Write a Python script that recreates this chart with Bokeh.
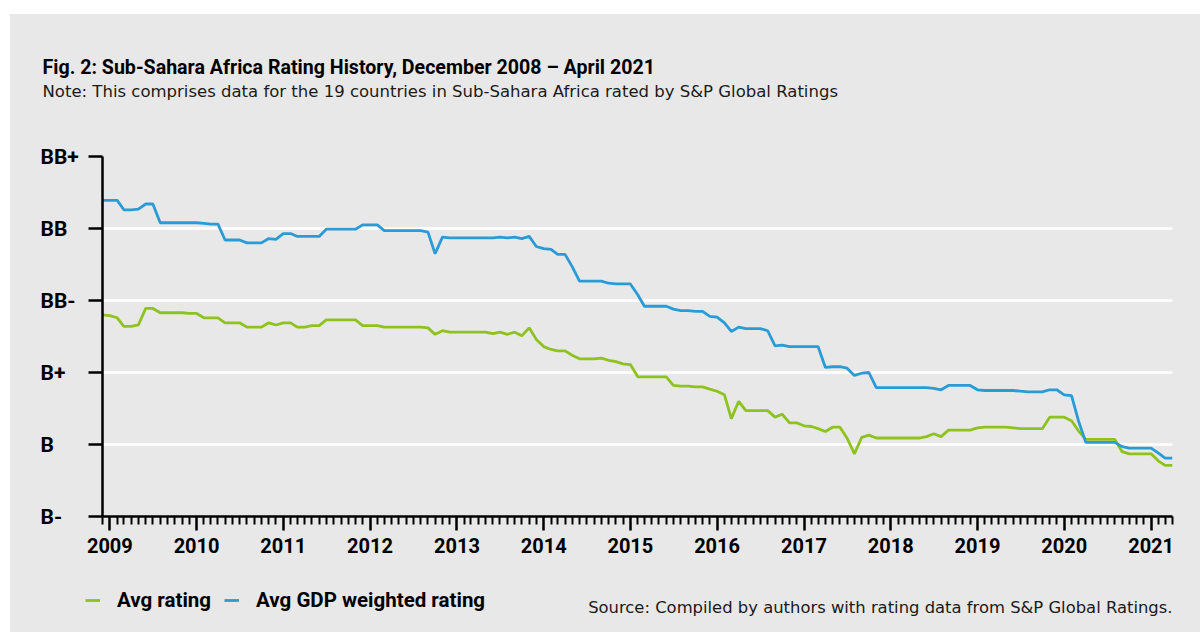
import datetime as dt
from bokeh.plotting import figure
from bokeh.models import (FixedTicker, ColumnDataSource, LabelSet, Label, Legend, LegendItem,
                          Range1d, DatetimeTickFormatter, CustomJSTickFormatter, Spacer)
from bokeh.layouts import column, row
from bokeh.embed import file_html
from bokeh.resources import INLINE
from bokeh.core.properties import value

# ---------------- data ----------------
title_text = "Fig. 2: Sub-Sahara Africa Rating History, December 2008 \u2013 April 2021"
note_text = "Note: This comprises data for the 19 countries in Sub-Sahara Africa rated by S&P Global Ratings"
source_text = "Source: Compiled by authors with rating data from S&P Global Ratings."
series_names = ["Avg rating", "Avg GDP weighted rating"]

rating_labels = ["B-", "B", "B+", "BB-", "BB", "BB+"]
rating_levels = [1, 2, 3, 4, 5, 6]
year_ticks = list(range(2009, 2022))

# monthly observations, December 2008 .. April 2021 (rating scale: B-=1 ... BB+=6)
avg_rating = [
    3.80, 3.79, 3.76, 3.64, 3.64, 3.66, 3.89, 3.89, 3.83, 3.83, 3.83, 3.83,   # Dec08-Nov09
    3.82, 3.82, 3.76, 3.76, 3.76, 3.69, 3.69, 3.69, 3.63, 3.63, 3.63, 3.69,   # Dec09-Nov10
    3.66, 3.69, 3.69, 3.63, 3.63, 3.65, 3.65, 3.73, 3.73, 3.73, 3.73, 3.73,   # Dec10-Nov11
    3.65, 3.65, 3.65, 3.63, 3.63, 3.63, 3.63, 3.63, 3.63, 3.62, 3.53, 3.58,   # Dec11-Nov12
    3.56, 3.56, 3.56, 3.56, 3.56, 3.56, 3.54, 3.56, 3.53, 3.56, 3.51, 3.62,   # Dec12-Nov13
    3.46, 3.36, 3.32, 3.30, 3.30, 3.24, 3.19, 3.19, 3.19, 3.20, 3.17, 3.15,   # Dec13-Nov14
    3.12, 3.11, 2.94, 2.94, 2.94, 2.94, 2.94, 2.82, 2.81, 2.81, 2.80, 2.80,   # Dec14-Nov15
    2.77, 2.74, 2.69, 2.36, 2.60, 2.47, 2.47, 2.47, 2.47, 2.38, 2.42, 2.30,   # Dec15-Nov16
    2.30, 2.26, 2.25, 2.22, 2.18, 2.24, 2.24, 2.09, 1.87, 2.10, 2.13, 2.09,   # Dec16-Nov17
    2.09, 2.09, 2.09, 2.09, 2.09, 2.09, 2.11, 2.15, 2.11, 2.20, 2.20, 2.20,   # Dec17-Nov18
    2.20, 2.23, 2.24, 2.24, 2.24, 2.24, 2.23, 2.22, 2.22, 2.22, 2.22, 2.38,   # Dec18-Nov19
    2.38, 2.38, 2.33, 2.19, 2.07, 2.07, 2.07, 2.07, 2.07, 1.90, 1.87, 1.87,   # Dec19-Nov20
    1.87, 1.87, 1.77, 1.71, 1.71,                                             # Dec20-Apr21
]
avg_gdp_weighted = [
    5.39, 5.39, 5.39, 5.26, 5.26, 5.27, 5.34, 5.34, 5.08, 5.08, 5.08, 5.08,   # Dec08-Nov09
    5.08, 5.08, 5.07, 5.06, 5.06, 4.84, 4.84, 4.84, 4.80, 4.80, 4.80, 4.86,   # Dec09-Nov10
    4.85, 4.93, 4.93, 4.89, 4.89, 4.89, 4.89, 4.99, 4.99, 4.99, 4.99, 4.99,   # Dec10-Nov11
    5.05, 5.05, 5.05, 4.97, 4.97, 4.97, 4.97, 4.97, 4.97, 4.95, 4.65, 4.88,   # Dec11-Nov12
    4.87, 4.87, 4.87, 4.87, 4.87, 4.87, 4.87, 4.88, 4.87, 4.88, 4.86, 4.89,   # Dec12-Nov13
    4.75, 4.72, 4.71, 4.64, 4.64, 4.47, 4.27, 4.27, 4.27, 4.27, 4.24, 4.23,   # Dec13-Nov14
    4.23, 4.23, 4.08, 3.92, 3.92, 3.92, 3.92, 3.88, 3.86, 3.86, 3.85, 3.85,   # Dec14-Nov15
    3.78, 3.77, 3.69, 3.57, 3.63, 3.61, 3.61, 3.61, 3.58, 3.37, 3.38, 3.36,   # Dec15-Nov16
    3.36, 3.36, 3.36, 3.36, 3.07, 3.08, 3.08, 3.06, 2.96, 2.99, 3.00, 2.79,   # Dec16-Nov17
    2.79, 2.79, 2.79, 2.79, 2.79, 2.79, 2.79, 2.78, 2.76, 2.82, 2.82, 2.82,   # Dec17-Nov18
    2.82, 2.76, 2.75, 2.75, 2.75, 2.75, 2.75, 2.74, 2.73, 2.73, 2.73, 2.76,   # Dec18-Nov19
    2.76, 2.69, 2.68, 2.33, 2.03, 2.03, 2.03, 2.03, 2.03, 1.97, 1.95, 1.95,   # Dec19-Nov20
    1.95, 1.95, 1.88, 1.81, 1.81,                                             # Dec20-Apr21
]

def month_start(i):
    y = 2008 + (11 + i) // 12
    m = (11 + i) % 12 + 1
    return dt.datetime(y, m, 1)

months = [month_start(i) for i in range(len(avg_rating))]

def ms(d):
    return (d - dt.datetime(1970, 1, 1)).total_seconds() * 1000.0

GREEN = "#8dc21f"
BLUE = "#2a9bd6"
BG = "#e8e8e8"
BOLD = "Roboto"
REG = "DejaVu Sans"
TXT = "#1a1a1a"

# layout sizes (pixels)
MAIN_H, BORDER_T, BORDER_B = 432, 16, 56


def blank(p):
    p.background_fill_color = BG
    p.border_fill_color = BG
    p.outline_line_color = None
    p.grid.visible = False
    return p


# ---------------- top strip: title + note ----------------
p_top = blank(figure(width=1190, height=126, output_backend="svg", toolbar_location=None,
                     x_range=Range1d(0, 1), y_range=Range1d(0, 1),
                     x_axis_location=None, y_axis_location=None, min_border=0))
p_top.add_layout(Label(x=32, y=73, x_units="screen", y_units="screen", text=title_text,
                       text_font=BOLD, text_font_style="bold", text_font_size="19.6px",
                       text_color="black", text_baseline="alphabetic"))
p_top.add_layout(Label(x=32, y=49, x_units="screen", y_units="screen", text=note_text,
                       text_font=REG, text_font_size="16.5px",
                       text_color=TXT, text_baseline="alphabetic"))

# ---------------- main chart ----------------
p = figure(width=1114, height=MAIN_H, x_axis_type="datetime",
           output_backend="svg", toolbar_location=None,
           x_range=Range1d(ms(months[0]), ms(months[-1])),
           y_range=Range1d(rating_levels[0], rating_levels[-1]),
           min_border_left=16, min_border_right=28, min_border_top=BORDER_T, min_border_bottom=BORDER_B)
p.background_fill_color = BG
p.border_fill_color = BG
p.outline_line_color = None

p.xgrid.grid_line_color = None
p.ygrid.grid_line_color = "white"
p.ygrid.grid_line_width = 2.5

major = [ms(dt.datetime(y, 1, 1)) for y in year_ticks]
minor = [ms(d) for d in months if d.month != 1]
p.xaxis.ticker = FixedTicker(ticks=major, minor_ticks=minor)
p.xaxis.formatter = DatetimeTickFormatter(years="%Y", months="%Y", days="%Y", hours="%Y")
p.xaxis.axis_line_width = 2.5
p.xaxis.axis_line_color = "black"
p.xaxis.major_tick_line_width = 2.5
p.xaxis.minor_tick_line_width = 2
p.xaxis.major_tick_out = 14
p.xaxis.major_tick_in = 0
p.xaxis.minor_tick_out = 8
p.xaxis.minor_tick_in = 0
p.xaxis.major_label_standoff = 7
p.xaxis.major_label_text_font = BOLD
p.xaxis.major_label_text_font_style = "bold"
p.xaxis.major_label_text_font_size = "20px"
p.xaxis.major_label_text_color = "black"

p.yaxis.ticker = FixedTicker(ticks=rating_levels, minor_ticks=[])
p.yaxis.formatter = CustomJSTickFormatter(code="return ''")
p.yaxis.major_label_standoff = 0
p.yaxis.axis_line_width = 2.5
p.yaxis.axis_line_color = "black"
p.yaxis.major_tick_line_width = 2.5
p.yaxis.major_tick_out = 14
p.yaxis.major_tick_in = 0
p.yaxis.minor_tick_line_color = None

r1 = p.line(months, avg_rating, line_color=GREEN, line_width=2.8)
r2 = p.line(months, avg_gdp_weighted, line_color=BLUE, line_width=2.8)

# ---------------- left strip: rating labels (same vertical scale as the chart) ----------------
px_per_unit = (MAIN_H - BORDER_T - BORDER_B) / (rating_levels[-1] - rating_levels[0])
p_left = blank(figure(width=76, height=MAIN_H, output_backend="svg", toolbar_location=None,
                      x_range=Range1d(0, 1),
                      y_range=Range1d(rating_levels[0] - BORDER_B / px_per_unit,
                                      rating_levels[-1] + BORDER_T / px_per_unit),
                      x_axis_location=None, y_axis_location=None, min_border=0))
ylab_src = ColumnDataSource(dict(y=rating_levels, text=rating_labels))
p_left.add_layout(LabelSet(x=30, x_units="screen", y="y", text="text", source=ylab_src,
                           text_align="left", text_baseline="middle",
                           text_font=value(BOLD), text_font_style="bold", text_font_size="21px",
                           text_color="black"))

# ---------------- bottom strip: legend + source ----------------
p_bot = blank(figure(width=1190, height=60, output_backend="svg", toolbar_location=None,
                     x_range=Range1d(0, 1), y_range=Range1d(0, 1),
                     x_axis_location=None, y_axis_location=None, min_border=0))
# key renderers (their data lie outside this strip's ranges; only the legend swatches show)
k1 = p_bot.line(months, avg_rating, line_color=GREEN, line_width=2.8)
k2 = p_bot.line(months, avg_gdp_weighted, line_color=BLUE, line_width=2.8)
legend = Legend(items=[LegendItem(label=series_names[0], renderers=[k1]),
                       LegendItem(label=series_names[1], renderers=[k2])],
                location=(75, 20), orientation="horizontal",
                glyph_width=15, label_standoff=17, spacing=13, padding=0, margin=0,
                border_line_color=None, background_fill_alpha=0,
                label_text_font=BOLD, label_text_font_style="bold",
                label_text_font_size="20.5px", label_text_color="black")
p_bot.add_layout(legend, "center")
p_bot.add_layout(Label(x=1162, y=25, x_units="screen", y_units="screen", text=source_text,
                       text_font=REG, text_font_size="16.4px", text_align="right",
                       text_color=TXT, text_baseline="alphabetic"))

middle = row(column(p_left), column(p), styles={"background-color": BG})
content = column(p_top, middle, p_bot, styles={"background-color": BG})
layout = column(Spacer(width=1200, height=14), row(Spacer(width=10, height=618), content))
open("out.html", "w").write(file_html(layout, INLINE))
